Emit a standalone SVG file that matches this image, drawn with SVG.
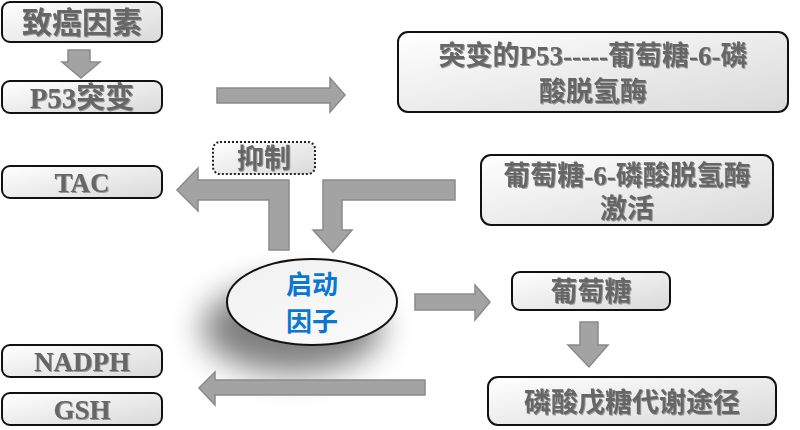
<svg xmlns="http://www.w3.org/2000/svg" width="800" height="430" viewBox="0 0 800 430">
<defs>
<linearGradient id="g" x1="0" y1="0" x2="1" y2="1"><stop offset="0" stop-color="#ffffff"/><stop offset="1" stop-color="#d9d9d9"/></linearGradient>
<linearGradient id="ge" x1="0" y1="0" x2="1" y2="1"><stop offset="0" stop-color="#f0f0f0"/><stop offset="1" stop-color="#fbfbfb"/></linearGradient>
<filter id="sh" x="-50%" y="-50%" width="200%" height="200%"><feGaussianBlur stdDeviation="16"/></filter>
<filter id="ts"><feDropShadow dx="1" dy="1" stdDeviation="0.6" flood-color="#999"/></filter>
</defs>
<style>
.b{fill:url(#g);stroke:#111;stroke-width:2}
.t{font-family:"Liberation Serif","Noto Sans CJK SC",serif;font-weight:bold;fill:#666;text-anchor:middle;filter:url(#ts)}
.a{fill:#a3a3a3;stroke:#8a8a8a;stroke-width:1.5}
.c{font-family:"Noto Sans CJK SC",sans-serif;font-weight:bold;fill:#0a78d0;text-anchor:middle;font-size:26px}
</style>
<g id="n1"><rect class="b" x="2" y="2" width="160" height="40" rx="8"/><text class="t" x="82" y="33" font-size="30">致癌因素</text></g>
<g id="n2"><rect class="b" x="2" y="81" width="160" height="32" rx="8"/><text class="t" x="82" y="108" font-size="29">P53突变</text></g>
<g id="n3"><rect class="b" x="398" y="32" width="390" height="80" rx="10"/><text class="t" x="593" y="65" font-size="27">突变的P53-----葡萄糖-6-磷</text><text class="t" x="593" y="101" font-size="27">酸脱氢酶</text></g>
<g id="n4"><rect class="b" x="2" y="166" width="160" height="32" rx="8"/><text class="t" x="82" y="192" font-size="27">TAC</text></g>
<g id="n5"><rect x="213" y="142" width="102" height="32" rx="7" fill="url(#g)" stroke="#222" stroke-width="2" stroke-dasharray="2,2"/><text class="t" x="264" y="168" font-size="27">抑制</text></g>
<g id="n6"><rect class="b" x="481" y="155" width="292" height="70" rx="10"/><text class="t" x="627" y="185" font-size="27">葡萄糖-6-磷酸脱氢酶</text><text class="t" x="627" y="218" font-size="27">激活</text></g>
<g id="n7"><ellipse cx="292" cy="328" rx="90" ry="45" fill="#000" opacity="0.5" filter="url(#sh)"/><ellipse cx="312" cy="302" rx="85" ry="43" fill="url(#ge)" stroke="#111" stroke-width="2"/><text class="c" x="312" y="294">启动</text><text class="c" x="312" y="331">因子</text></g>
<g id="n8"><rect class="b" x="512" y="272" width="158" height="38" rx="8"/><text class="t" x="591" y="301" font-size="27">葡萄糖</text></g>
<g id="n9"><rect class="b" x="488" y="377" width="288" height="48" rx="10"/><text class="t" x="632" y="412" font-size="27">磷酸戊糖代谢途径</text></g>
<g id="n10"><rect class="b" x="2" y="345" width="160" height="32" rx="8"/><text class="t" x="82" y="371" font-size="27">NADPH</text></g>
<g id="n11"><rect class="b" x="2" y="393" width="160" height="32" rx="8"/><text class="t" x="82" y="419" font-size="27">GSH</text></g>
<g id="connectors">
<polygon class="a" points="68,50 90,50 90,62 100,62 81,78 62,62 68,62"/>
<polygon class="a" points="217,88 330,88 330,78 345,95 330,112 330,103 217,103"/>
<polygon class="a" points="289,180 289,250 269,250 269,200 198,200 198,211 177,190 198,168 198,180"/>
<polygon class="a" points="455,180 455,200 342,200 342,230 352,230 333,252 313,230 323,230 323,180"/>
<polygon class="a" points="415,294 475,294 475,285 490,302 475,320 475,310 415,310"/>
<polygon class="a" points="580,322 598,322 598,345 608,345 589,367 568,345 580,345"/>
<polygon class="a" points="425,380 425,395 215,395 215,405 199,388 215,372 215,380"/>
</g>
</svg>
